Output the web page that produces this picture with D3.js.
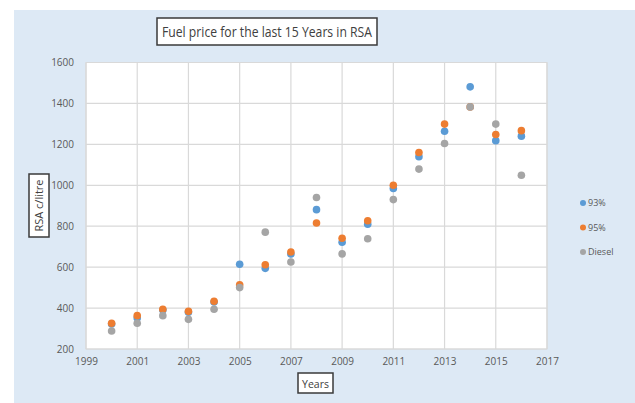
<!DOCTYPE html>
<html>
<head>
<meta charset="utf-8">
<script src="https://cdn.jsdelivr.net/npm/d3@7"></script>
<style>
  body { margin: 0; background: #fff; }
  text { font-family: "Open Sans", "Liberation Sans", sans-serif; }
</style>
</head>
<body>
<div id="chart"></div>
<script>
// Data
const years = [2000, 2001, 2002, 2003, 2004, 2005, 2006, 2007, 2008, 2009, 2010, 2011, 2012, 2013, 2014, 2015, 2016];
const petrol93 = [322, 352, 390, 380, 430, 614, 594, 664, 881, 722, 810, 984, 1140, 1264, 1481, 1218, 1240];
const petrol95 = [326, 363, 394, 384, 433, 514, 612, 674, 816, 741, 827, 1000, 1160, 1299, 1383, 1248, 1267];
const diesel = [288, 326, 363, 345, 394, 500, 771, 625, 940, 665, 739, 930, 1079, 1204, 1383, 1299, 1049];
const xTicks = [1999, 2001, 2003, 2005, 2007, 2009, 2011, 2013, 2015, 2017];
const yTicks = [200, 400, 600, 800, 1000, 1200, 1400, 1600];

const series = [
  { name: "93%", values: petrol93, color: "#5b9bd5" },
  { name: "95%", values: petrol95, color: "#ed7d31" },
  { name: "Diesel", values: diesel, color: "#a5a5a5" }
];

const W = 635, H = 403;
const plot = { left: 86, top: 62.5, right: 547, bottom: 349 };

const svg = d3.select("#chart").append("svg")
  .attr("width", W).attr("height", H);

// background panel
svg.append("rect")
  .attr("x", 14).attr("y", 10).attr("width", 621).attr("height", 393)
  .attr("fill", "#dde9f5");

const x = d3.scaleLinear().domain([1999, 2017]).range([plot.left, plot.right]);
const y = d3.scaleLinear().domain([200, 1600]).range([plot.bottom, plot.top]);

// plot area
svg.append("rect")
  .attr("x", plot.left).attr("y", plot.top)
  .attr("width", plot.right - plot.left).attr("height", plot.bottom - plot.top)
  .attr("fill", "#fff").attr("stroke", "#d9d9d9");

// gridlines
svg.append("g").selectAll("line").data(yTicks).join("line")
  .attr("x1", plot.left).attr("x2", plot.right)
  .attr("y1", d => y(d)).attr("y2", d => y(d))
  .attr("stroke", "#d9d9d9").attr("stroke-width", 1.2);
svg.append("g").selectAll("line").data(xTicks).join("line")
  .attr("y1", plot.top).attr("y2", plot.bottom)
  .attr("x1", d => x(d)).attr("x2", d => x(d))
  .attr("stroke", "#d9d9d9").attr("stroke-width", 1.2);

// axes (labels only)
const xAxis = svg.append("g")
  .attr("transform", `translate(0,${plot.bottom})`)
  .call(d3.axisBottom(x).tickValues(xTicks).tickFormat(d3.format("d")).tickSize(0).tickPadding(9));
const yAxis = svg.append("g")
  .attr("transform", `translate(${plot.left},0)`)
  .call(d3.axisLeft(y).tickValues(yTicks).tickFormat(d3.format("d")).tickSize(0).tickPadding(12));
[xAxis, yAxis].forEach(a => {
  a.select(".domain").remove();
  a.selectAll("text").attr("fill", "#595959").style("font-size", "10px");
});

// dots
series.forEach(s => {
  svg.append("g").selectAll("circle").data(years).join("circle")
    .attr("cx", d => x(d))
    .attr("cy", (d, i) => y(s.values[i]))
    .attr("r", 3.8)
    .attr("fill", s.color);
});

// title
svg.append("rect")
  .attr("x", 157).attr("y", 18).attr("width", 220).attr("height", 27)
  .attr("fill", "#fff").attr("stroke", "#3a3a3a").attr("stroke-width", 1.5);
svg.append("text")
  .attr("x", 267).attr("y", 37).attr("text-anchor", "middle")
  .attr("fill", "#404040").style("font-size", "14px")
  .attr("textLength", 210).attr("lengthAdjust", "spacingAndGlyphs")
  .text("Fuel price for the last 15 Years in RSA");

// y axis title
svg.append("rect")
  .attr("x", 29).attr("y", 174).attr("width", 20).attr("height", 63)
  .attr("fill", "#fff").attr("stroke", "#3a3a3a").attr("stroke-width", 1.5);
svg.append("text")
  .attr("transform", "translate(43,205.5) rotate(-90)")
  .attr("text-anchor", "middle")
  .attr("fill", "#404040").style("font-size", "10.5px")
  .attr("textLength", 52).attr("lengthAdjust", "spacingAndGlyphs")
  .text("RSA c/litre");

// x axis title
svg.append("rect")
  .attr("x", 298).attr("y", 373).attr("width", 35).attr("height", 20)
  .attr("fill", "#fff").attr("stroke", "#3a3a3a").attr("stroke-width", 1.5);
svg.append("text")
  .attr("x", 315.5).attr("y", 387.5).attr("text-anchor", "middle")
  .attr("fill", "#404040").style("font-size", "10.5px")
  .text("Years");

// legend
const legend = svg.append("g").selectAll("g").data(series).join("g")
  .attr("transform", (d, i) => `translate(583,${203 + i * 24.5})`);
legend.append("circle").attr("r", 3).attr("fill", d => d.color);
legend.append("text")
  .attr("x", 5).attr("dy", "0.35em")
  .attr("fill", "#595959").style("font-size", "9px")
  .text(d => d.name);
</script>
</body>
</html>
